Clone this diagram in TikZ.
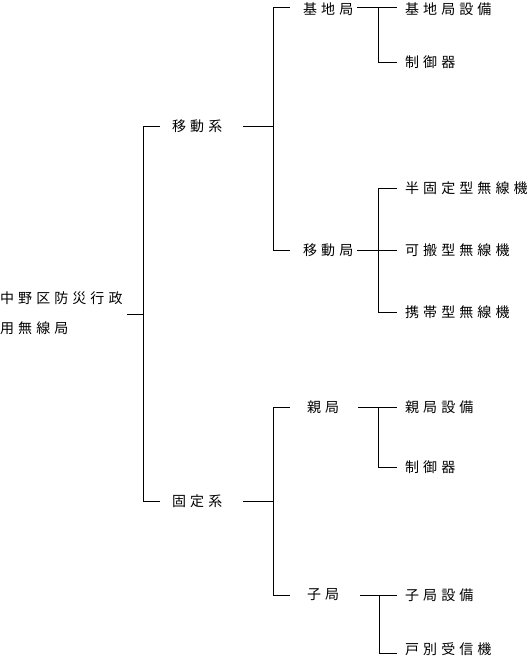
\documentclass[tikz,border=0pt]{standalone}
\usepackage{fontspec}
\newfontfamily\jp{Noto Sans CJK JP}[LetterSpace=29]
\begin{document}
\begin{tikzpicture}[x=1pt,y=-1pt,
  lbl/.style={anchor=west,inner sep=0pt,font=\jp\fontsize{14pt}{16pt}\selectfont},
  conn/.style={draw=black,line width=1pt}]
\useasboundingbox (0,0) rectangle (532,657);
% texts
\node[lbl] (r1) at (0,298) {中野区防災行政};
\node[lbl] (r2) at (0,328) {用無線局};
\node[lbl] (mob) at (172,126) {移動系};
\node[lbl] (fix) at (172,501) {固定系};
\node[lbl] (base) at (303,9) {基地局};
\node[lbl] (mst) at (303,250) {移動局};
\node[lbl] (par) at (307,407) {親局};
\node[lbl] (chi) at (307,595) {子局};
\node[lbl] (b1) at (405,9) {基地局設備};
\node[lbl] (b2) at (405,62) {制御器};
\node[lbl] (m1) at (405,188) {半固定型無線機};
\node[lbl] (m2) at (405,250) {可搬型無線機};
\node[lbl] (m3) at (405,312) {携帯型無線機};
\node[lbl] (p1) at (405,407) {親局設備};
\node[lbl] (p2) at (405,467) {制御器};
\node[lbl] (c1) at (405,595) {子局設備};
\node[lbl] (c2) at (405,649) {戸別受信機};
% junction coordinates
\coordinate (r0) at (127,314);
\coordinate (j0) at (143,314);
\coordinate (j0a) at (143,126);
\coordinate (j0b) at (143,501);
\coordinate (mobL) at (160,126);
\coordinate (fixL) at (160,501);
\coordinate (mobR) at (243,126);
\coordinate (fixR) at (243,501);
\coordinate (j1) at (273,126);
\coordinate (j1a) at (273,7);
\coordinate (j1b) at (273,250);
\coordinate (j2) at (273,501);
\coordinate (j2a) at (273,407);
\coordinate (j2b) at (273,595);
\coordinate (baseL) at (290,7);
\coordinate (mstL) at (290,250);
\coordinate (parL) at (290,407);
\coordinate (chiL) at (290,595);
\coordinate (baseR) at (357,7);
\coordinate (mstR) at (357,250);
\coordinate (parR) at (358,407);
\coordinate (chiR) at (360,595);
\coordinate (kb) at (378,7);
\coordinate (km) at (378,250);
\coordinate (kp) at (378,407);
\coordinate (kc) at (379,595);
\coordinate (b1L) at (397,7);
\coordinate (b2L) at (397,62);
\coordinate (m1L) at (397,188);
\coordinate (m2L) at (397,250);
\coordinate (m3L) at (397,312);
\coordinate (p1L) at (397,407);
\coordinate (p2L) at (397,467);
\coordinate (c1L) at (397,595);
\coordinate (c2L) at (397,653);
% connectors
\draw[conn] (r0) -- (j0);
\draw[conn] (j0a) -- (j0b);
\draw[conn] (j0a) -- (mobL);
\draw[conn] (j0b) -- (fixL);
\draw[conn] (mobR) -- (j1);
\draw[conn] (fixR) -- (j2);
\draw[conn] (j1a) -- (j1b);
\draw[conn] (j2a) -- (j2b);
\draw[conn] (j1a) -- (baseL);
\draw[conn] (j1b) -- (mstL);
\draw[conn] (j2a) -- (parL);
\draw[conn] (j2b) -- (chiL);
\draw[conn] (baseR) -- (b1L);
\draw[conn] (mstR) -- (m2L);
\draw[conn] (parR) -- (p1L);
\draw[conn] (chiR) -- (c1L);
\draw[conn] (kb) |- (b2L);
\draw[conn] (m1L) -| (378,312) -- (m3L);
\draw[conn] (kp) |- (p2L);
\draw[conn] (kc) |- (c2L);
\end{tikzpicture}
\end{document}
